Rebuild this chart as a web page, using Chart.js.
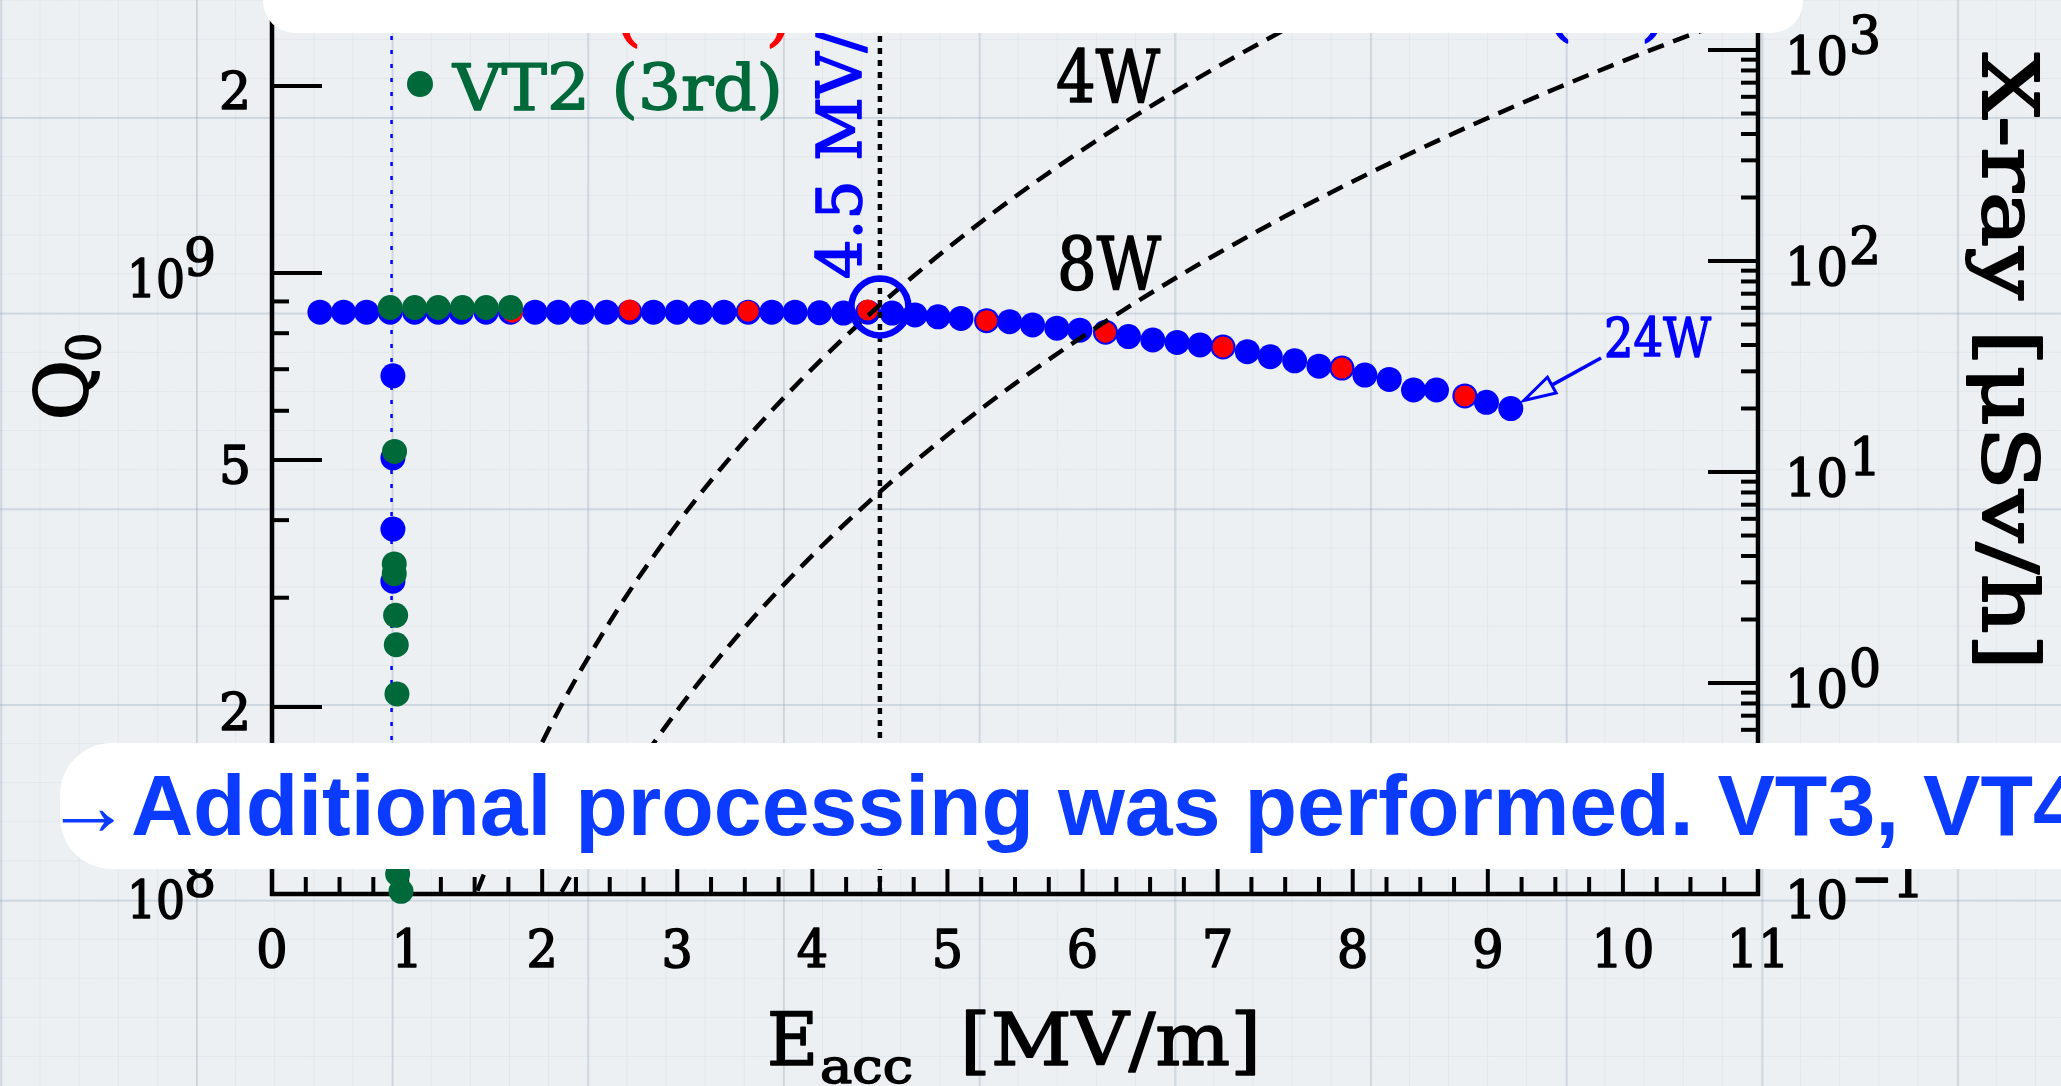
<!DOCTYPE html>
<html>
<head>
<meta charset="utf-8">
<script src="https://cdn.jsdelivr.net/npm/chart.js@4.4.1/dist/chart.umd.min.js"></script>
<style>
html,body{margin:0;padding:0;width:2061px;height:1086px;overflow:hidden;}
body{
  background-color:#edf0f3;
  background-image:
    linear-gradient(to right, rgba(140,160,180,0.28) 2px, transparent 2px),
    linear-gradient(to bottom, rgba(140,160,180,0.28) 2px, transparent 2px),
    linear-gradient(to right, rgba(150,170,190,0.12) 1px, transparent 1px),
    linear-gradient(to bottom, rgba(150,170,190,0.12) 1px, transparent 1px);
  background-size:195.7px 195.7px,195.7px 195.7px,39.14px 39.14px,39.14px 39.14px;
  background-position:196px 117px,196px 117px,196px 117px,196px 117px;
}
#c{position:absolute;left:0;top:0;}
.box{position:absolute;background:#fff;}
#topbox{left:263px;top:-60px;width:1540px;height:93px;border-radius:32px;}
#botbox{left:60px;top:743px;width:2060px;height:126px;border-radius:52px;}
#bottext{position:absolute;left:45px;top:762px;font-family:"Liberation Sans",Arial,sans-serif;font-weight:bold;font-size:86px;line-height:86px;color:#0b3bff;white-space:nowrap;}
</style>
</head>
<body>
<canvas id="c" width="2061" height="1086"></canvas>
<div class="box" id="topbox"></div>
<div class="box" id="botbox"></div>
<div id="bottext">→Additional processing was performed. VT3, VT4</div>
<script>
// ---------- data ----------
// main (blue) measurement: Eacc [MV/m] and Q0
const eBlue = [0.355,0.53,0.70,0.875,1.056,1.23,1.40,1.585,1.766,1.947,2.12,2.295,2.476,2.648,2.824,3.00,3.17,3.346,3.525,3.70,3.872,4.053,4.23,4.41,4.59,4.76,4.93,5.10,5.29,5.46,5.63,5.81,5.98,6.17,6.34,6.52,6.70,6.87,7.04,7.22,7.39,7.57,7.75,7.92,8.09,8.27,8.45,8.62,8.83,8.99,9.17];
const qBlue = [8.65e8,8.65e8,8.65e8,8.65e8,8.65e8,8.65e8,8.65e8,8.65e8,8.65e8,8.65e8,8.65e8,8.65e8,8.65e8,8.65e8,8.65e8,8.65e8,8.65e8,8.65e8,8.65e8,8.65e8,8.65e8,8.63e8,8.62e8,8.65e8,8.62e8,8.56e8,8.50e8,8.45e8,8.38e8,8.35e8,8.25e8,8.15e8,8.09e8,8.03e8,7.90e8,7.80e8,7.73e8,7.66e8,7.60e8,7.47e8,7.33e8,7.22e8,7.08e8,7.03e8,6.85e8,6.74e8,6.48e8,6.48e8,6.34e8,6.19e8,6.05e8];
const eBlueDrop = [0.895,0.895,0.895,0.895];
const qBlueDrop = [6.83e8,5.04e8,3.87e8,3.19e8];
// red points
const eRed = [1.78,2.648,3.525,4.41,5.29,6.17,7.04,7.92,8.83];
const qRed = [8.65e8,8.72e8,8.68e8,8.72e8,8.38e8,8.03e8,7.60e8,7.03e8,6.34e8];
// VT2 (3rd), green
const eGreen = [0.875,1.056,1.23,1.41,1.585,1.766,0.907,0.905,0.905,0.915,0.92,0.925,0.93,0.955];
const qGreen = [8.8e8,8.8e8,8.8e8,8.8e8,8.8e8,8.8e8,5.16e8,3.40e8,3.28e8,2.81e8,2.52e8,2.10e8,1.077e8,1.01e8];
// constant-loss curves (4 W, 8 W)
const e4W = [1.45,1.51,2.0,2.5,3.0,3.5,4.0,4.5,5.0,5.5,6.0,6.5,7.0,7.5,8.0];
const q4W = [0.922e8,1.0e8,1.754e8,2.741e8,3.947e8,5.373e8,7.017e8,8.881e8,1.096e9,1.327e9,1.579e9,1.853e9,2.149e9,2.467e9,2.807e9];
const e8W = [2.05,2.135,2.5,3.0,3.5,4.0,4.5,5.0,5.5,6.0,6.5,7.0,7.5,8.0,8.5,9.0,9.5,10.0,10.5,11.0];
const q8W = [0.922e8,1.0e8,1.371e8,1.974e8,2.687e8,3.510e8,4.442e8,5.485e8,6.636e8,7.898e8,9.269e8,1.075e9,1.234e9,1.404e9,1.585e9,1.777e9,1.980e9,2.194e9,2.419e9,2.655e9];
// marker lines and highlighted point
const eLimit = [0.885,0.885];
const qLimit = [1e8,3e9];
const eMark = [4.5,4.5];
const qMark = [1e8,3e9];
const eCircle = [4.5];
const qCircle = [8.82e8];
// axes
const xTickLabels = ['0','1','2','3','4','5','6','7','8','9','10','11'];
const yLeftDigitTicks = [2e9,5e8,2e8];
const yLeftDigitLabels = ['2','5','2'];
const yLeftPowTicks = [1e9,1e8];
const yLeftPowExp = ['9','8'];
const yRightPowTicks = [1000,100,10,1,0.1];
const yRightPowExp = ['3','2','1','0','\u22121'];

const BLUE = '#0000ff', RED = '#ff0000', GREEN = '#00693a';
const SERIF = '"DejaVu Serif", "Liberation Serif", serif';

function P(xs, ys){ return xs.map((v,i)=>({x:v, y:ys[i]})); }

function ft(ctx, s, x, y, size, w, o) {
  o = o || {};
  ctx.save();
  ctx.font = (o.style ? o.style + ' ' : '') + size + 'px ' + SERIF;
  const m = ctx.measureText(s).width;
  const sx = w ? w / m : (o.sx || 1);
  ctx.translate(x, y);
  if (o.rot) ctx.rotate(o.rot);
  ctx.scale(sx, 1);
  ctx.fillStyle = o.color || '#000';
  ctx.strokeStyle = o.color || '#000';
  ctx.lineWidth = o.sw === undefined ? 1.6 : o.sw;
  ctx.lineJoin = 'round';
  ctx.textBaseline = 'alphabetic';
  ctx.textAlign = 'left';
  const off = o.align === 'right' ? -m : (o.align === 'center' ? -m / 2 : 0);
  ctx.fillText(s, off, 0);
  if (ctx.lineWidth > 0) ctx.strokeText(s, off, 0);
  ctx.restore();
}
function seg(ctx, x1, y1, x2, y2){ ctx.beginPath(); ctx.moveTo(x1,y1); ctx.lineTo(x2,y2); ctx.stroke(); }

const artPlugin = {
  id: 'art',
  beforeDatasetsDraw(chart) {
    const {ctx, chartArea: ca} = chart;
    const x = chart.scales.x, y = chart.scales.y, y2 = chart.scales.y2;
    ctx.save();
    ctx.strokeStyle = '#000';
    ctx.lineWidth = 4.5;
    ctx.lineCap = 'butt';
    seg(ctx, ca.left, ca.top, ca.left, ca.bottom + 2);
    seg(ctx, ca.right, ca.top, ca.right, ca.bottom + 2);
    seg(ctx, ca.left - 2, ca.bottom, ca.right + 2, ca.bottom);
    ctx.lineWidth = 4;
    // x ticks (every 0.25)
    for (let k = 1; k < 44; k++) {
      const v = k / 4;
      const px = x.getPixelForValue(v);
      seg(ctx, px, ca.bottom, px, ca.bottom - (k % 4 === 0 ? 45 : 17));
    }
    // left ticks
    for (let d = 8; d <= 9; d++) {
      for (let m = 1; m <= 9; m++) {
        const v = m * Math.pow(10, d);
        if (v > y.max || (d === 8 && m === 1)) continue;
        const py = y.getPixelForValue(v);
        const len = (m === 1 || m === 2 || m === 5) ? 50 : 17;
        seg(ctx, ca.left, py, ca.left + len, py);
      }
    }
    // right ticks
    for (let d = -1; d <= 3; d++) {
      for (let m = 1; m <= 9; m++) {
        const v = m * Math.pow(10, d);
        if (v > y2.max || (d === -1 && m === 1)) continue;
        const py = y2.getPixelForValue(v);
        seg(ctx, ca.right, py, ca.right - (m === 1 ? 50 : 17), py);
      }
    }
    ctx.restore();

    // tick labels
    xTickLabels.forEach((t, i) => {
      const px = x.getPixelForValue(i);
      ft(ctx, t, px, ca.bottom + 73, 53, null, {align:'center', sx:0.93});
    });
    yLeftDigitTicks.forEach((v, i) => {
      const py = y.getPixelForValue(v);
      ft(ctx, yLeftDigitLabels[i], 251, py + 23, 53, null, {align:'right', sx:0.95});
    });
    yLeftPowTicks.forEach((v, i) => {
      const py = y.getPixelForValue(v);
      ft(ctx, '10', 127, py + 24, 53, 58);
      ft(ctx, yLeftPowExp[i], 184, py + 2, 53, null, {sx:0.95});
    });
    yRightPowTicks.forEach((v, i) => {
      const py = y2.getPixelForValue(v);
      ft(ctx, '10', 1785, py + 24, 53, 63);
      const e = yRightPowExp[i];
      if (e.length > 1) ft(ctx, e, 1851, py + 3, 53, 73);
      else ft(ctx, e, 1849, py + 3, 53, null, {sx:0.95});
    });

    // axis titles
    ft(ctx, 'E', 767, 1065, 72, 51);
    ft(ctx, 'acc', 820, 1083, 48, 93);
    ft(ctx, '[MV/m]', 960, 1065, 72, 301);
    ft(ctx, 'X-ray [\u03BCSv/h]', 1983, 53, 77, 617, {rot: Math.PI / 2, sw: 2});
    ft(ctx, 'Q', 88, 420, 73, null, {rot: -Math.PI / 2, sw: 2});
    ft(ctx, '0', 100, 362, 46, null, {rot: -Math.PI / 2});
  },
  afterDatasetsDraw(chart) {
    const {ctx} = chart;
    const x = chart.scales.x, y = chart.scales.y;
    // highlight ring around the 4.5 MV/m point
    ctx.save();
    ctx.strokeStyle = BLUE;
    ctx.lineWidth = 6.5;
    ctx.beginPath();
    ctx.arc(x.getPixelForValue(eCircle[0]), y.getPixelForValue(qCircle[0]), 28.5, 0, Math.PI * 2);
    ctx.stroke();
    ctx.restore();
    // legend-like labels
    ctx.save();
    ctx.fillStyle = GREEN;
    ctx.beginPath(); ctx.arc(420, 84, 13, 0, Math.PI * 2); ctx.fill();
    ctx.restore();
    ft(ctx, 'VT2 (3rd)', 453, 110, 64, 330, {color: GREEN});
    // legend entries hidden under the top white box: only the parentheses peek out
    ft(ctx, '(', 616, 38, 64, null, {color: RED});
    ft(ctx, ')', 766, 38, 64, null, {color: RED});
    ft(ctx, '(', 1547, 33, 64, null, {color: BLUE});
    ft(ctx, ')', 1641, 33, 64, null, {color: BLUE});
    // power labels
    ft(ctx, '4W', 1056, 103, 73, 104);
    ft(ctx, '8W', 1057, 290, 73, 104);
    // 4.5 MV/m
    ft(ctx, '4.5 MV/m', x.getPixelForValue(4.5) - 19, 279, 62, null, {rot: -Math.PI / 2, color: BLUE});
    // 24W + arrow to last point
    ft(ctx, '24W', 1604, 357, 55, 107, {color: BLUE});
    const n = eBlue.length - 1;
    const tx = x.getPixelForValue(eBlue[n]) + 13, ty = y.getPixelForValue(qBlue[n]) - 8;
    const sx0 = 1601, sy0 = 358;
    const ang = Math.atan2(ty - sy0, tx - sx0);
    const L = 32, W = 9;
    const bx = tx - L * Math.cos(ang), by = ty - L * Math.sin(ang);
    ctx.save();
    ctx.strokeStyle = BLUE; ctx.lineWidth = 3.5;
    seg(ctx, sx0, sy0, bx, by);
    ctx.beginPath();
    ctx.moveTo(tx, ty);
    ctx.lineTo(bx + W * Math.sin(ang), by - W * Math.cos(ang));
    ctx.lineTo(bx - W * Math.sin(ang), by + W * Math.cos(ang));
    ctx.closePath();
    ctx.lineWidth = 3;
    ctx.stroke();
    ctx.restore();
  }
};

new Chart(document.getElementById('c'), {
  type: 'scatter',
  data: {
    datasets: [
      {label:'4W', data:P(e4W,q4W), showLine:true, borderColor:'#000', borderWidth:4.5, borderDash:[17,10], pointRadius:0, cubicInterpolationMode:'monotone', order:0, clip:0},
      {label:'8W', data:P(e8W,q8W), showLine:true, borderColor:'#000', borderWidth:4.5, borderDash:[17,10], pointRadius:0, cubicInterpolationMode:'monotone', order:0, clip:0},
      {label:'4.5 MV/m', data:P(eMark,qMark), showLine:true, borderColor:'#000', borderWidth:4.5, borderDash:[6,6], pointRadius:0, order:0, clip:0},
      {label:'VT2 (3rd)', data:P(eGreen,qGreen), pointRadius:12.5, pointBackgroundColor:GREEN, pointBorderColor:GREEN, pointBorderWidth:0, order:2, clip:false},
      {label:'VT2 (2nd)', data:P(eRed,qRed), pointRadius:10.5, pointBackgroundColor:RED, pointBorderColor:RED, pointBorderWidth:0, order:3, clip:false},
      {label:'main', data:P(eBlue,qBlue).concat(P(eBlueDrop,qBlueDrop)), pointRadius:12.5, pointBackgroundColor:BLUE, pointBorderColor:BLUE, pointBorderWidth:0, order:4, clip:false},
      {label:'limit', data:P(eLimit,qLimit), showLine:true, borderColor:BLUE, borderWidth:2.5, borderDash:[4,10], pointRadius:0, order:5, clip:0}
    ]
  },
  options: {
    responsive:false, animation:false, devicePixelRatio:1, events:[],
    layout:{padding:{left:272,right:303,top:0,bottom:192}, autoPadding:false},
    plugins:{legend:{display:false}, tooltip:{enabled:false}},
    scales:{
      x:{type:'linear', min:0, max:11, display:false},
      y:{type:'logarithmic', min:1e8, max:2.752e9, display:false},
      y2:{type:'logarithmic', position:'right', min:0.1, max:1726, display:false}
    }
  },
  plugins:[artPlugin]
});
</script>
</body>
</html>
